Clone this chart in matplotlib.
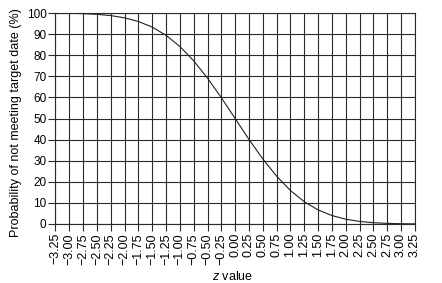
import matplotlib
matplotlib.use("Agg")
import matplotlib.pyplot as plt

# z values at the ticks and the curve (%)
z_values = [-3.25, -3.00, -2.75, -2.50, -2.25, -2.00, -1.75, -1.50, -1.25,
            -1.00, -0.75, -0.50, -0.25, 0.00, 0.25, 0.50, 0.75, 1.00,
            1.25, 1.50, 1.75, 2.00, 2.25, 2.50, 2.75, 3.00, 3.25]
prob_not_meeting = [99.94, 99.87, 99.70, 99.38, 98.78, 97.72, 95.99, 93.32, 89.44,
                    84.13, 77.34, 69.15, 59.87, 50.00, 40.13, 30.85, 22.66, 15.87,
                    10.56, 6.68, 4.01, 2.28, 1.22, 0.62, 0.30, 0.13, 0.06]
y_ticks = [0, 10, 20, 30, 40, 50, 60, 70, 80, 90, 100]
x_tick_labels = ["{:.2f}".format(z).replace("-", "\u2212") for z in z_values]

plt.rcParams["font.family"] = ["Liberation Sans", "DejaVu Sans"]
plt.rcParams["mathtext.fontset"] = "custom"
plt.rcParams["mathtext.it"] = "Liberation Sans:italic"

fig = plt.figure(figsize=(4.42, 2.83), dpi=100)
ax = fig.add_axes([0.1255, 0.2085, 0.813, 0.7455])

grid_col = "#2a2a2a"
ax.plot(z_values, prob_not_meeting, color="#222222", lw=0.8, zorder=3)

ax.set_xlim(-3.25, 3.25)
ax.set_ylim(0, 100)
ax.set_xticks(z_values)
ax.set_xticklabels(x_tick_labels, rotation=90, fontsize=9)
ax.set_yticks(y_ticks)
ax.set_yticklabels([str(v) for v in y_ticks], fontsize=8.5)
ax.grid(True, color=grid_col, lw=0.8)
ax.tick_params(direction="out", length=5, width=0.8, color=grid_col, pad=1.5)
for spine in ax.spines.values():
    spine.set_color(grid_col)
    spine.set_linewidth(0.8)

ax.set_ylabel("Probability of not meeting target date (%)", fontsize=9)
ax.yaxis.set_label_coords(-0.093, 0.481)
ax.set_xlabel("$z$ value", fontsize=9)
ax.xaxis.set_label_coords(0.492, -0.22)

fig.savefig("out.png", dpi=100)
